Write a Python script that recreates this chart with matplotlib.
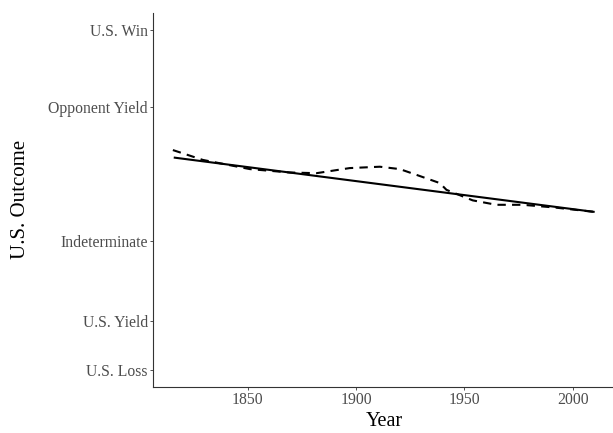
import numpy as np
import matplotlib.pyplot as plt

plt.rcParams['font.family'] = ['Liberation Serif', 'DejaVu Serif']

# outcome scale (tick positions on the y axis)
outcome_labels = ['U.S. Loss', 'U.S. Yield', 'Indeterminate', 'Opponent Yield', 'U.S. Win']
outcome_values = [0.0, 0.1435, 0.378, 0.7715, 1.0]

# linear fit
linear_years = [1816, 2010]
linear_values = [0.624, 0.464]

# loess smooth
loess_years = [1815.6, 1829.4, 1851.1, 1869.5, 1881.8, 1897.1, 1911.0, 1920.2,
               1927.9, 1938.6, 1941.7, 1953.8, 1964.7, 1976.9, 1991.6, 2010.0]
loess_values = [0.646, 0.617, 0.590, 0.580, 0.578, 0.593, 0.597, 0.590,
                0.573, 0.549, 0.529, 0.498, 0.485, 0.485, 0.477, 0.464]

x_ticks = [1850, 1900, 1950, 2000]

W, H = 613, 433
fig = plt.figure(figsize=(W / 100, H / 100), dpi=100)
ax = fig.add_axes([152.7 / W, (H - 386.7) / H, (615.7 - 152.7) / W, (386.7 - 12.7) / H])

ax.plot(linear_years, linear_values, color='black', lw=1.5, solid_capstyle='butt')
ax.plot(loess_years, loess_values, color='black', lw=1.5, linestyle=(0, (4, 3)))

span = 2010 - 1816
ax.set_xlim(1816 - 0.05 * span, 2010 + 0.05 * span)
ax.set_ylim(-0.05, 1.05)

ax.set_xticks(x_ticks)
ax.set_yticks(outcome_values)
ax.set_yticklabels(outcome_labels)
ax.tick_params(axis='both', labelsize=11.3, colors='#333333', length=2.5, width=0.6,
               labelcolor='#4d4d4d', pad=1)

for s in ['top', 'right']:
    ax.spines[s].set_visible(False)
for s in ['left', 'bottom']:
    ax.spines[s].set_linewidth(0.8)
    ax.spines[s].set_color('#333333')

ax.set_xlabel('Year', fontsize=14.5, labelpad=3)
ax.set_ylabel('U.S. Outcome', fontsize=15, labelpad=13)

fig.savefig('out.png', dpi=100)
